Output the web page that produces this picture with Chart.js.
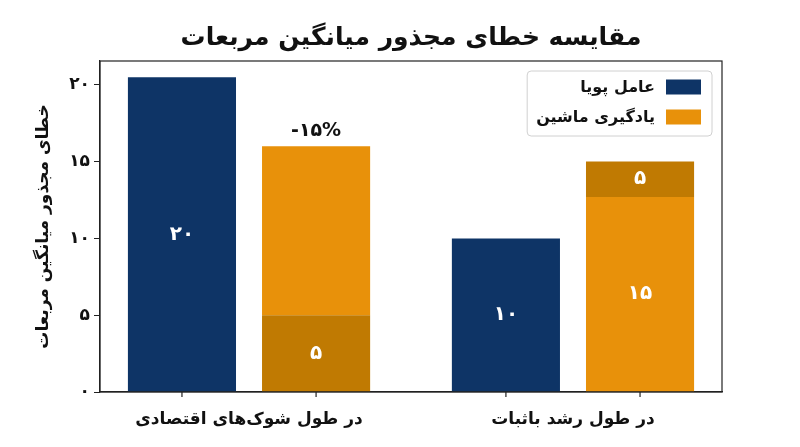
<!DOCTYPE html>
<html lang="fa">
<head>
<meta charset="utf-8">
<script src="https://cdn.jsdelivr.net/npm/chart.js@4.4.1/dist/chart.umd.min.js"></script>
<style>
  html, body { margin: 0; padding: 0; background: #fff; }
  #wrap { width: 800px; height: 447px; }
</style>
</head>
<body>
<div id="wrap"><canvas id="chart"></canvas></div>
<script>
// data
const categories = ['در طول شوک‌های اقتصادی', 'در طول رشد باثبات'];
const seriesNames = ['عامل پویا', 'یادگیری ماشین'];
const dynamicValues = [20.5, 10];
const mlLower = [5, 12.7];
const mlUpper = [11, 2.3];
const dynamicLabels = ['۲۰', '۱۰'];
const mlLowerLabels = ['۵', '۱۵'];
const mlUpperLabels = ['', '۵'];
const changeLabels = ['-۱۵%', ''];
const yTicks = [0, 5, 10, 15, 20];
const yTickLabels = ['۰', '۵', '۱۰', '۱۵', '۲۰'];

const FONT = "'DejaVu Sans', sans-serif";
const NAVY = '#0e3466';
const ORANGE = '#e8910a';
const DARK_ORANGE = '#c07a02';

const toPoints = vals => vals.map((v, i) => ({ x: i, y: v }));

// frame round the plot + little ticks under every bar
const framePlugin = {
  id: 'frame',
  afterDatasetsDraw(chart) {
    const { ctx, chartArea: a } = chart;
    ctx.save();
    ctx.strokeStyle = '#222';
    ctx.lineWidth = 1.2;
    ctx.strokeRect(a.left, a.top, a.right - a.left, a.bottom - a.top);
    [0, 1].forEach(d => {
      chart.getDatasetMeta(d).data.forEach(el => {
        ctx.beginPath();
        ctx.moveTo(el.x, a.bottom);
        ctx.lineTo(el.x, a.bottom + 5);
        ctx.stroke();
      });
    });
    ctx.restore();
  }
};

const barLabelPlugin = {
  id: 'barLabels',
  afterDatasetsDraw(chart) {
    const { ctx } = chart;
    const sets = [dynamicLabels, mlLowerLabels, mlUpperLabels];
    ctx.save();
    ctx.textAlign = 'center';
    ctx.textBaseline = 'middle';
    ctx.fillStyle = '#fff';
    ctx.font = 'bold 20px ' + FONT;
    sets.forEach((labels, d) => {
      chart.getDatasetMeta(d).data.forEach((el, i) => {
        if (!labels[i]) return;
        ctx.fillText(labels[i], el.x, (el.y + el.base) / 2);
      });
    });
    // change note above the machine-learning stack
    ctx.fillStyle = '#111';
    ctx.direction = 'ltr';
    ctx.textBaseline = 'bottom';
    ctx.font = 'bold 19px ' + FONT;
    chart.getDatasetMeta(2).data.forEach((el, i) => {
      if (!changeLabels[i]) return;
      ctx.fillText(changeLabels[i], el.x, el.y - 6);
    });
    ctx.restore();
  }
};

const legendPlugin = {
  id: 'boxLegend',
  afterDraw(chart) {
    const { ctx, chartArea: a } = chart;
    const colors = [NAVY, ORANGE];
    ctx.save();
    ctx.font = 'bold 16px ' + FONT;
    const tw = Math.max(...seriesNames.map(t => ctx.measureText(t).width));
    const right = a.right - 10, top = a.top + 10;
    const sw = 35, sh = 15, gap = 11;
    const left = right - 11 - sw - gap - tw - 9;
    ctx.beginPath();
    ctx.roundRect(left, top, right - left, 65, 4);
    ctx.fillStyle = 'rgba(255,255,255,0.85)';
    ctx.fill();
    ctx.strokeStyle = '#d0d0d0';
    ctx.lineWidth = 1;
    ctx.stroke();
    ctx.textAlign = 'right';
    ctx.textBaseline = 'middle';
    seriesNames.forEach((name, i) => {
      const cy = top + 16 + i * 30;
      ctx.fillStyle = colors[i];
      ctx.fillRect(right - 11 - sw, cy - sh / 2, sw, sh);
      ctx.fillStyle = '#111';
      ctx.fillText(name, right - 11 - sw - gap, cy + 1);
    });
    ctx.restore();
  }
};

new Chart(document.getElementById('chart'), {
  type: 'bar',
  data: {
    datasets: [
      {
        label: seriesNames[0],
        data: toPoints(dynamicValues),
        backgroundColor: NAVY,
        stack: 'dyn'
      },
      {
        label: seriesNames[1],
        data: toPoints(mlLower),
        backgroundColor: [DARK_ORANGE, ORANGE],
        stack: 'ml'
      },
      {
        label: seriesNames[1],
        data: toPoints(mlUpper),
        backgroundColor: [ORANGE, DARK_ORANGE],
        stack: 'ml'
      }
    ]
  },
  options: {
    responsive: true,
    maintainAspectRatio: false,
    animation: false,
    categoryPercentage: 0.828,
    barPercentage: 0.806,
    layout: { padding: { left: 0, right: 78, top: 0, bottom: 0 } },
    plugins: {
      legend: { display: false },
      tooltip: { enabled: false },
      title: {
        display: true,
        fullSize: false,
        text: 'مقایسه خطای مجذور میانگین مربعات',
        color: '#111',
        font: { family: FONT, size: 25, weight: 'bold' },
        padding: { top: 23, bottom: 8 }
      }
    },
    scales: {
      x: {
        type: 'linear',
        offset: false,
        min: -0.46,
        max: 1.46,
        grid: { display: false },
        border: { display: true, color: '#222', width: 1.2 },
        afterBuildTicks: axis => { axis.ticks = categories.map((c, i) => ({ value: i })); },
        afterFit: axis => { axis.height = 55; },
        ticks: {
          maxRotation: 0,
          autoSkip: false,
          padding: 9,
          color: '#111',
          font: { family: FONT, size: 17, weight: 'bold' },
          callback: value => categories[value]
        }
      },
      y: {
        min: 0,
        max: 21.55,
        stacked: true,
        grid: { drawOnChartArea: false, color: '#222', tickLength: 6 },
        border: { display: true, color: '#222', width: 1.2 },
        afterBuildTicks: axis => { axis.ticks = yTicks.map(v => ({ value: v })); },
        afterFit: axis => { axis.width = 100; },
        ticks: {
          padding: 4,
          color: '#111',
          font: { family: FONT, size: 17, weight: 'bold' },
          callback: value => yTickLabels[yTicks.indexOf(value)]
        },
        title: {
          display: true,
          text: 'خطای مجذور میانگین مربعات',
          color: '#111',
          font: { family: FONT, size: 17, weight: 'bold' },
          padding: { top: 33, bottom: 0 }
        }
      }
    }
  },
  plugins: [framePlugin, barLabelPlugin, legendPlugin]
});
</script>
</body>
</html>
